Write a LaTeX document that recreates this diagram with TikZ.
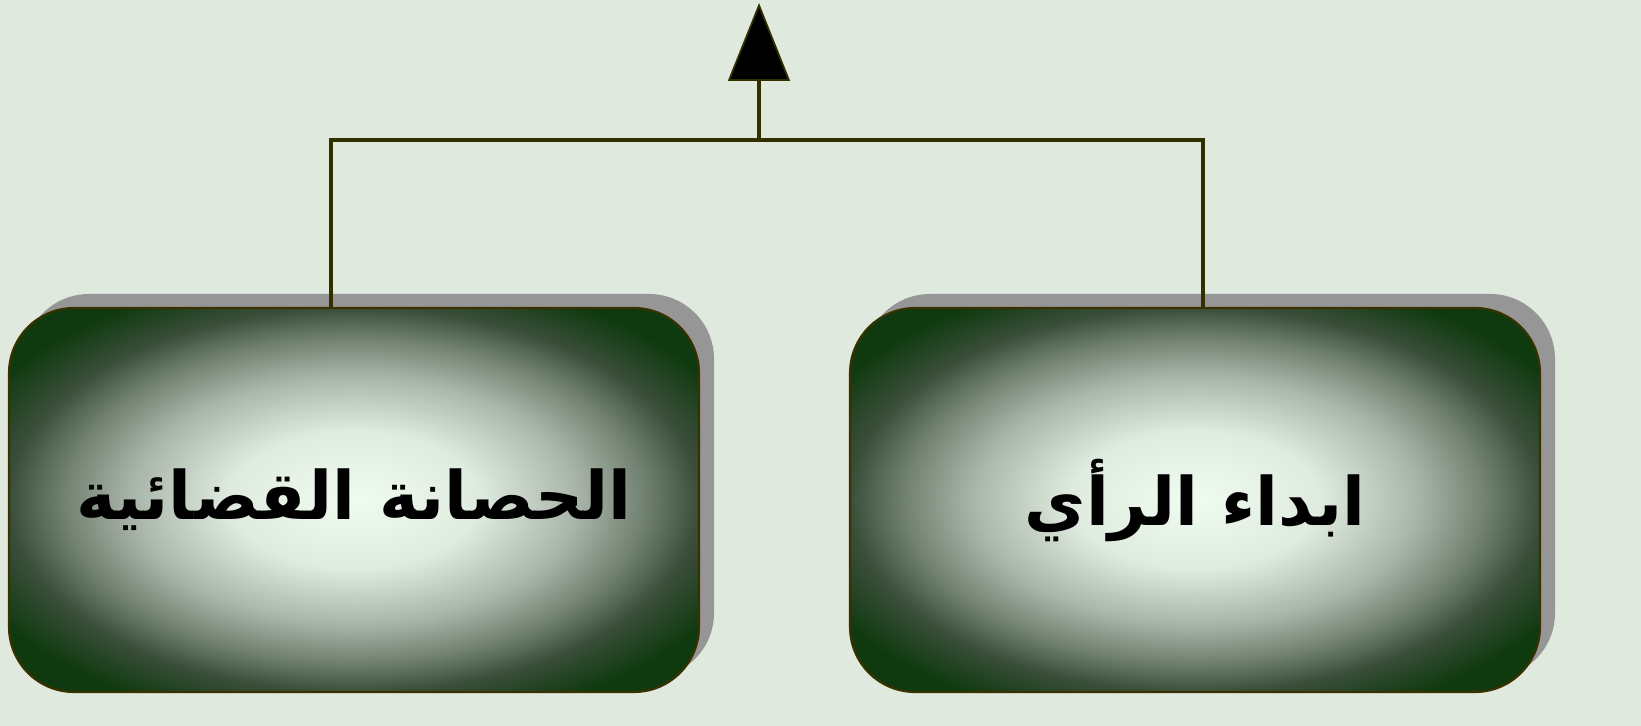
\documentclass[tikz,border=0pt]{standalone}
\usepackage{fontspec}
\usepackage{tikz}
\usetikzlibrary{positioning,shadows,arrows.meta}
\TeXXeTstate=1
\newfontfamily\arabicfont[Script=Arabic]{DejaVu Sans}
\definecolor{bgcol}{HTML}{DFE9DE}
\definecolor{wirecol}{HTML}{333000}
\definecolor{rimcol}{HTML}{3A3000}
\definecolor{shadecol}{HTML}{969696}
\definecolor{glowin}{HTML}{F0FCF0}
\definecolor{glowa}{HTML}{E0EBE0}
\definecolor{glowb}{HTML}{AAB6AA}
\definecolor{glowc}{HTML}{728272}
\definecolor{glowd}{HTML}{3A4E3A}
\definecolor{glowout}{HTML}{0F3A0F}
\pgfdeclareradialshading{boxglow}{\pgfpoint{0bp}{0bp}}{color(0bp)=(glowin);
	color(9bp)=(glowa); color(16bp)=(glowb); color(21bp)=(glowc);
	color(25bp)=(glowd); color(30bp)=(glowout); color(50bp)=(glowout)}

\begin{document}
\begin{tikzpicture}[panel/.style={draw=rimcol, line width=1.2pt,
		rounded corners=1.3cm, minimum width=13.8cm, minimum height=7.68cm,
		shading=boxglow, drop shadow={shadow xshift=0.3cm, shadow yshift=0.28cm,
		fill=shadecol, opacity=1}, font=\arabicfont\bfseries\fontsize{38}{46}\selectfont},
	wire/.style={draw=wirecol, line width=2.8pt}]
	\fill [bgcol] (0,0) rectangle (32.82,14.52);
	\useasboundingbox (0,0) rectangle (32.82,14.52);
	\node [panel] (immunity) at (7.08,4.52) {\beginR الحصانة القضائية\endR};
	\node [panel] (opinion) at (23.9,4.52) {\beginR ابداء الرأي\endR};
	\coordinate (hub) at (15.18,11.72);
	\coordinate (apex) at (15.18,14.46);
	\draw [wire] ([xshift=-0.46cm]immunity.north) |- (hub) -| ([xshift=0.16cm]opinion.north);
	\draw [wire, -{Triangle[length=1.56cm, width=1.24cm, fill=black, line width=1pt]}] (hub) -- (apex);
\end{tikzpicture}
\end{document}
